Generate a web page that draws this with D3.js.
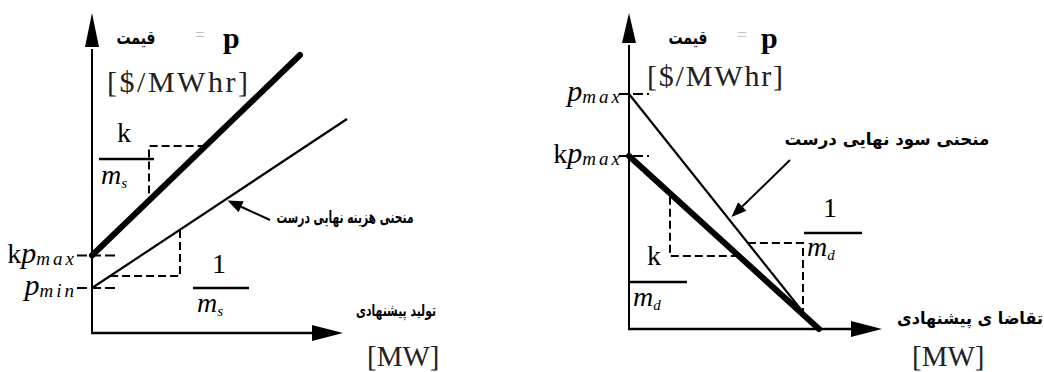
<!DOCTYPE html>
<html>
<head>
<meta charset="utf-8">
<script src="https://cdn.jsdelivr.net/npm/d3@7"></script>
<style>
  body { margin: 0; background: #fff; }
  svg { display: block; }
</style>
</head>
<body>
<svg id="fig" width="1044" height="372"></svg>
<script>
// ---------- Supply side: final cost curve vs. offered curve ----------
const supplyAxisEnd   = [10.04, 12.8];          // [quantity, price] where the axis arrows end
const supplyTicks     = [3.1, 1.8];             // kp_max, p_min
const supplyTickText  = [["k", "p", "max"], ["", "p", "min"]];
const supplyBidQ      = [0, 8.32];              // offered curve (thick)
const supplyBidP      = [3.1, 11.12];
const supplyTrueQ     = [0, 10.2];              // true marginal cost curve (thin)
const supplyTrueP     = [1.8, 8.56];
const supplyBidStep   = [2.28, 7.48];           // corner of the k/m_s slope triangle
const supplyTrueStep  = [3.52, 2.28];           // corner of the 1/m_s slope triangle
const supplyPointer   = [[7.12, 4.52], [5.42, 5.30]];

// ---------- Demand side: final benefit curve vs. bid curve ----------
const demandAxisEnd   = [10.12, 12.64];
const demandTicks     = [9.4, 6.92];            // p_max, kp_max
const demandTickText  = [["", "p", "max"], ["k", "p", "max"]];
const demandTrueQ     = [0, 7.5];               // true marginal benefit curve (thin)
const demandTrueP     = [9.4, 0];
const demandBidQ      = [0, 7.6];               // bid curve (thick)
const demandBidP      = [6.92, 0];
const demandBidStep   = [1.64, 2.92];
const demandTrueStep  = [6.96, 3.44];
const demandPointer   = [[6.44, 6.76], [4.1, 4.48]];

const svg = d3.select("#fig");
const INK = "#000";
const SERIF = "'Liberation Serif', 'Times New Roman', serif";
const FARSI = "'DejaVu Sans', sans-serif";

// price along a straight curve defined by two end points
function priceAt(qs, ps, q) {
  return ps[0] + (ps[1] - ps[0]) * (q - qs[0]) / (qs[1] - qs[0]);
}
function qtyAt(qs, ps, p) {
  return qs[0] + (qs[1] - qs[0]) * (p - ps[0]) / (ps[1] - ps[0]);
}

function arrowHead(g, tip, from, len, half) {
  const dx = tip[0] - from[0], dy = tip[1] - from[1];
  const L = Math.hypot(dx, dy), ux = dx / L, uy = dy / L;
  const bx = tip[0] - ux * len, by = tip[1] - uy * len;
  g.append("path")
    .attr("d", `M${tip[0]},${tip[1]}L${bx - uy * half},${by + ux * half}L${bx + uy * half},${by - ux * half}Z`)
    .attr("fill", INK);
  return [bx, by];
}

function panel(cfg) {
  const g = svg.append("g");
  const x = d3.scaleLinear().domain([0, 10]).range([cfg.x0, cfg.x0 + 250]);
  const y = d3.scaleLinear().domain([0, 10]).range([cfg.y0, cfg.y0 - 250]);
  const line = d3.line().x(d => x(d[0])).y(d => y(d[1]));

  // axes with arrow heads
  const yTip = [x(0), y(cfg.axisEnd[1])];
  const yBase = arrowHead(g, yTip, [x(0), y(0)], cfg.yHead[0], cfg.yHead[1]);
  g.append("line").attr("x1", x(0)).attr("y1", y(0)).attr("x2", x(0)).attr("y2", yBase[1] + 2)
    .attr("stroke", INK).attr("stroke-width", 2);
  const xTip = [x(cfg.axisEnd[0]), y(0)];
  const xBase = arrowHead(g, xTip, [x(0), y(0)], cfg.xHead[0], cfg.xHead[1]);
  g.append("line").attr("x1", x(0) - 1).attr("y1", y(0)).attr("x2", xBase[0] + 2).attr("y2", y(0))
    .attr("stroke", INK).attr("stroke-width", 2.4);

  // dashed tick marks on the price axis
  cfg.ticks.forEach((v, i) => {
    g.append("line")
      .attr("x1", x(0) - cfg.tickLeft).attr("x2", x(0) + cfg.tickRight)
      .attr("y1", y(v)).attr("y2", y(v))
      .attr("stroke", INK).attr("stroke-width", 1.8).attr("stroke-dasharray", "10,4");
    const t = g.append("text")
      .attr("x", x(0) - cfg.labelGap).attr("y", y(v) + 7)
      .attr("text-anchor", "end").attr("font-family", SERIF).attr("fill", INK);
    const parts = cfg.tickText[i];
    if (parts[0]) t.append("tspan").attr("font-size", 28).text(parts[0]);
    t.append("tspan").attr("font-size", 30).attr("font-style", "italic").text(parts[1]);
    t.append("tspan").attr("font-size", 19).attr("font-style", "italic")
      .attr("letter-spacing", 3).attr("dy", 2).text(parts[2]);
  });

  // the two curves
  g.append("path").datum(d3.zip(cfg.trueQ, cfg.trueP)).attr("d", line)
    .attr("fill", "none").attr("stroke", INK).attr("stroke-width", 2.2);
  g.append("path").datum(d3.zip(cfg.bidQ, cfg.bidP)).attr("d", line)
    .attr("fill", "none").attr("stroke", INK).attr("stroke-width", 6).attr("stroke-linecap", "round");

  // dashed slope triangles
  cfg.steps.forEach(s => {
    const c = s.corner;
    const pts = [[qtyAt(s.q, s.p, c[1]), c[1]], c, [c[0], priceAt(s.q, s.p, c[0])]];
    g.append("path").datum(pts).attr("d", line)
      .attr("fill", "none").attr("stroke", INK).attr("stroke-width", 2)
      .attr("stroke-dasharray", "8,4");
  });

  // pointer arrow toward the true curve
  const from = [x(cfg.pointer[0][0]), y(cfg.pointer[0][1])];
  const to = [x(cfg.pointer[1][0]), y(cfg.pointer[1][1])];
  const base = arrowHead(g, to, from, 15, 6);
  g.append("line").attr("x1", from[0]).attr("y1", from[1]).attr("x2", base[0]).attr("y2", base[1])
    .attr("stroke", INK).attr("stroke-width", 2);

  return g;
}

function fraction(g, num, denom, sub, bx, by, bw, numX, numY, denX, denY) {
  g.append("text").attr("x", numX).attr("y", numY).attr("font-family", SERIF)
    .attr("font-size", 28).attr("fill", INK).text(num);
  g.append("line").attr("x1", bx).attr("x2", bx + bw).attr("y1", by).attr("y2", by)
    .attr("stroke", INK).attr("stroke-width", 2.4);
  const t = g.append("text").attr("x", denX).attr("y", denY).attr("font-family", SERIF)
    .attr("font-style", "italic").attr("fill", INK);
  t.append("tspan").attr("font-size", 28).text(denom);
  t.append("tspan").attr("font-size", 15).attr("dy", 4).text(sub);
}

// Persian label, centred and squeezed horizontally to a given width
function farsi(g, txt, cx, baseline, size, width) {
  const t = g.append("text").attr("x", 0).attr("y", 0).attr("text-anchor", "middle")
    .attr("font-family", FARSI).attr("font-weight", "bold").attr("font-size", size)
    .attr("fill", INK).text(txt);
  const w = t.node().getComputedTextLength() || width;
  t.attr("transform", `translate(${cx},${baseline}) scale(${width / w},1)`);
}

function header(g, qx, yq, xEq, xp, xu, yu, uw) {
  farsi(g, "قیمت", qx, yq, 19, 39);
  g.append("text").attr("x", xEq).attr("y", yq - 3).attr("font-family", SERIF)
    .attr("font-size", 18).attr("fill", "#c4c4c4").text("=");
  g.append("text").attr("x", xp).attr("y", yq + 4).attr("font-family", SERIF).attr("font-weight", "bold")
    .attr("font-size", 30).attr("fill", INK).text("p");
  g.append("text").attr("x", xu).attr("y", yu).attr("font-family", SERIF)
    .attr("font-size", 30).attr("fill", "#222").attr("textLength", uw).attr("lengthAdjust", "spacing")
    .text("[$/MWhr]");
}

function unitMW(g, x0, y0) {
  g.append("text").attr("x", x0).attr("y", y0).attr("font-family", SERIF)
    .attr("font-size", 29).attr("fill", "#222").text("[MW]");
}

// ---- left panel ----
const left = panel({
  x0: 92, y0: 333, axisEnd: supplyAxisEnd, yHead: [34, 7], xHead: [31, 8],
  ticks: supplyTicks, tickText: supplyTickText, tickLeft: 15, tickRight: 24, labelGap: 15,
  trueQ: supplyTrueQ, trueP: supplyTrueP, bidQ: supplyBidQ, bidP: supplyBidP,
  steps: [
    { corner: supplyBidStep, q: supplyBidQ, p: supplyBidP },
    { corner: supplyTrueStep, q: supplyTrueQ, p: supplyTrueP }
  ],
  pointer: supplyPointer
});
header(left, 136, 44, 195, 223, 107, 92, 141);
fraction(left, "k", "m", "s", 99, 159, 55, 117, 142, 101, 184);
fraction(left, "1", "m", "s", 193, 288, 56, 212, 273, 197, 312);
farsi(left, "منحنی هزینه نهایی درست", 345, 223, 17, 137);
farsi(left, "تولید پیشنهادی", 396, 316, 16, 80);
unitMW(left, 367, 366);

// ---- right panel ----
const right = panel({
  x0: 629, y0: 329, axisEnd: demandAxisEnd, yHead: [30, 7], xHead: [31, 8],
  ticks: demandTicks, tickText: demandTickText, tickLeft: 10, tickRight: 20, labelGap: 6,
  trueQ: demandTrueQ, trueP: demandTrueP, bidQ: demandBidQ, bidP: demandBidP,
  steps: [
    { corner: demandBidStep, q: demandBidQ, p: demandBidP },
    { corner: demandTrueStep, q: demandTrueQ, p: demandTrueP }
  ],
  pointer: demandPointer
});
header(right, 688, 44, 737, 761, 647, 86, 136);
fraction(right, "k", "m", "d", 629, 282, 58, 647, 265, 633, 306);
fraction(right, "1", "m", "d", 804, 233, 58, 823, 217, 807, 256);
farsi(right, "منحنی  سود  نهایی درست", 887, 145, 17, 205);
farsi(right, "تقاضا ی  پیشنهادی", 970, 324, 17, 146);
unitMW(right, 912, 366);
</script>
</body>
</html>
